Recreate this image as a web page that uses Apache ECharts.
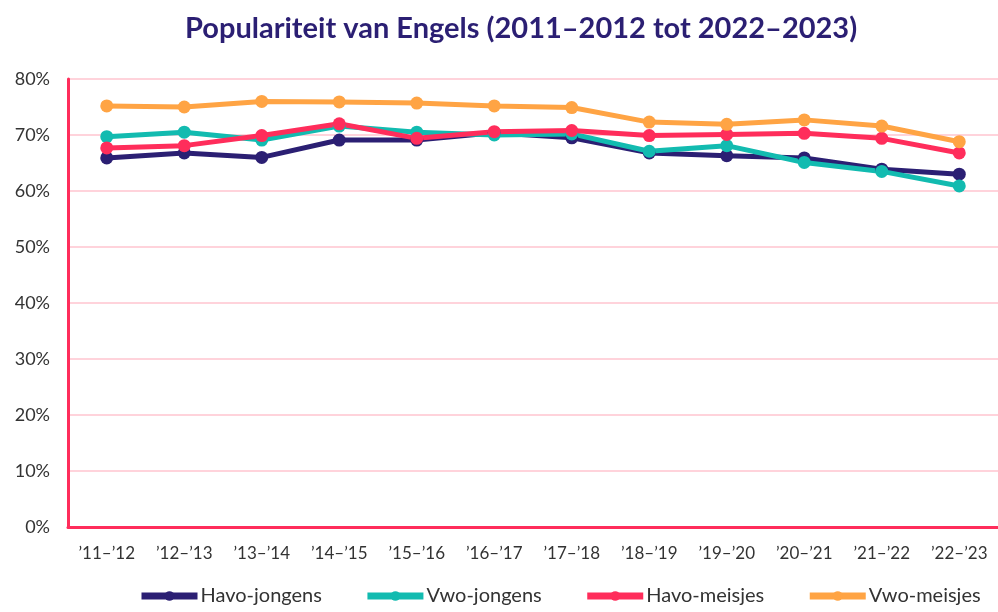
<!DOCTYPE html>
<html>
<head>
<meta charset="utf-8">
<script src="https://cdn.jsdelivr.net/npm/echarts@6/dist/echarts.min.js"></script>
<style>
  html, body { margin: 0; padding: 0; background: #fff; }
  #chart { width: 998px; height: 612px; }
</style>
</head>
<body>
<div id="chart"></div>
<script>
var years = ["’11–’12", "’12–’13", "’13–’14", "’14–’15", "’15–’16", "’16–’17", "’17–’18", "’18–’19", "’19–’20", "’20–’21", "’21–’22", "’22–’23"]
var havoJongens = [65.9, 66.8, 66.0, 69.1, 69.1, 70.4, 69.5, 66.8, 66.3, 65.9, 63.9, 63.0]
var vwoJongens = [69.7, 70.5, 69.1, 71.6, 70.5, 70.0, 70.2, 67.1, 68.1, 65.1, 63.5, 60.9]
var havoMeisjes = [67.7, 68.1, 69.9, 72.0, 69.4, 70.6, 70.8, 69.9, 70.1, 70.3, 69.4, 66.8]
var vwoMeisjes = [75.2, 75.0, 76.0, 75.9, 75.7, 75.2, 74.9, 72.3, 71.9, 72.7, 71.6, 68.8]

var names = ['Havo-jongens', 'Vwo-jongens', 'Havo-meisjes', 'Vwo-meisjes']
var colors = ['#2b1f73', '#12bbb0', '#ff2d5b', '#ffa444']
var allData = [havoJongens, vwoJongens, havoMeisjes, vwoMeisjes]

var chart = echarts.init(document.getElementById('chart'))

var series = []
allData.forEach(function (d, i) {
    series.push({
        name: names[i],
        type: 'line',
        data: d,
        symbol: 'circle',
        symbolSize: 13,
        lineStyle: { width: 5, color: colors[i] },
        itemStyle: { color: colors[i] }
    })
})

chart.setOption({
    animation: false,
    textStyle: { fontFamily: 'Lato, "Noto Sans", sans-serif' },
    title: {
        text: 'Populariteit van Engels (2011–2012 tot 2022–2023)',
        left: 180,
        top: 9,
        textStyle: { fontSize: 29, fontWeight: 'bold', color: '#2b1f73', fontFamily: 'Lato, sans-serif' }
    },
    legend: {
        bottom: 1,
        left: 133,
        itemWidth: 56,
        itemHeight: 12,
        itemGap: 42,
        lineStyle: { width: 7 },
        textStyle: { fontSize: 20, color: '#333', padding: [0, 0, 0, -2] },
        data: names
    },
    grid: { left: 68, right: -4, top: 79, bottom: 85 },
    xAxis: {
        type: 'category',
        data: years,
        axisLine: { lineStyle: { color: '#ff2d5b', width: 3 } },
        axisTick: { show: false },
        axisLabel: { fontSize: 17, color: '#333', margin: 18 }
    },
    yAxis: {
        type: 'value',
        min: 0,
        max: 80,
        interval: 10,
        axisLine: { show: true, lineStyle: { color: '#ff2d5b', width: 3 } },
        axisTick: { show: false },
        axisLabel: { formatter: '{value}%', fontSize: 18, color: '#333', margin: 18 },
        splitLine: { lineStyle: { color: '#ffc4cf', width: 1.5 } }
    },
    series: series
})
</script>
</body>
</html>
